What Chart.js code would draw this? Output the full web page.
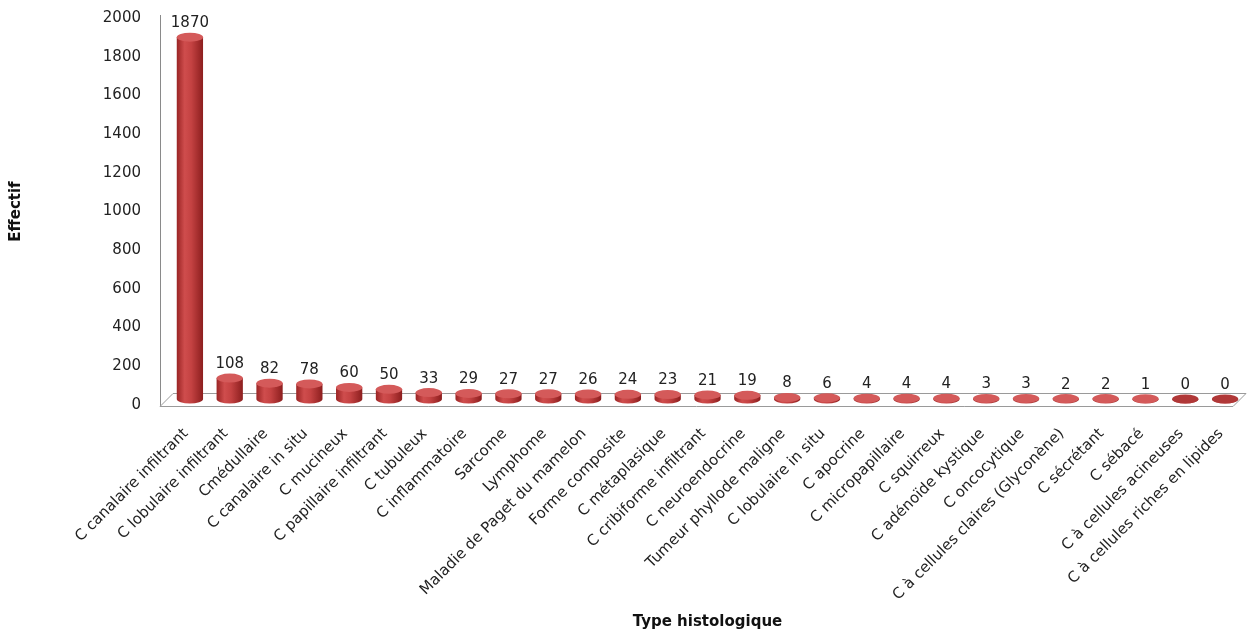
<!DOCTYPE html>
<html>
<head>
<meta charset="utf-8">
<script src="https://cdn.jsdelivr.net/npm/chart.js@4"></script>
<style>
html,body{margin:0;padding:0;background:#fff;}
#wrap{width:1247px;height:636px;position:relative;}
</style>
</head>
<body>
<div id="wrap"><canvas id="c" width="1247" height="636"></canvas></div>
<script>
const categories = [
  "C canalaire infiltrant", "C lobulaire infiltrant", "Cmédullaire", "C canalaire in situ",
  "C mucineux", "C papillaire infiltrant", "C tubuleux", "C inflammatoire", "Sarcome",
  "Lymphome", "Maladie de Paget du mamelon", "Forme composite", "C métaplasique",
  "C cribiforme infiltrant", "C neuroendocrine", "Tumeur phyllode maligne",
  "C lobulaire in situ", "C apocrine", "C micropapillaire", "C squirreux",
  "C adénoïde kystique", "C oncocytique", "C à cellules claires (Glyconène)",
  "C sécrétant", "C sébacé", "C à cellules acineuses", "C à cellules riches en lipides"
];
const values = [1870, 108, 82, 78, 60, 50, 33, 29, 27, 27, 26, 24, 23, 21, 19, 8, 6, 4, 4, 4, 3, 3, 2, 2, 1, 0, 0];
const yMin = 0, yMax = 2000, yStep = 200;
const yTitle = "Effectif";
const xTitle = "Type histologique";

const FONT = "'DejaVu Sans', Verdana, sans-serif";

const cylinderPlugin = {
  id: 'cyl',
  beforeDatasetsDraw(chart) {
    const ctx = chart.ctx, a = chart.chartArea, ys = chart.scales.y;
    const y0 = ys.getPixelForValue(0), yTop = ys.getPixelForValue(yMax);
    const d = 13;
    ctx.save();
    ctx.strokeStyle = '#8a8a8a';
    ctx.lineWidth = 1;
    ctx.beginPath();
    ctx.moveTo(a.left - 10 + 0.5, yTop - 3);
    ctx.lineTo(a.left - 10 + 0.5, y0 + 1);
    ctx.stroke();
    ctx.fillStyle = '#ffffff';
    ctx.strokeStyle = '#9a9a9a';
    ctx.beginPath();
    ctx.moveTo(a.left - 10, y0 + 1.5);
    ctx.lineTo(a.right - 12, y0 + 1.5);
    ctx.lineTo(a.right + 1, y0 + 1.5 - d);
    ctx.lineTo(a.left + 3, y0 + 1.5 - d);
    ctx.closePath();
    ctx.fill();
    ctx.stroke();
    ctx.restore();
  },
  afterDatasetsDraw(chart) {
    const ctx = chart.ctx;
    const meta = chart.getDatasetMeta(0);
    const dy = -6, ry = 4.5;
    ctx.save();
    meta.data.forEach((el, i) => {
      const p = el.getProps(['x', 'y', 'base', 'width'], true);
      const w = p.width, x0 = p.x - w / 2, x1 = p.x + w / 2;
      const top = p.y + dy, bot = p.base + dy;
      const g = ctx.createLinearGradient(x0, 0, x1, 0);
      g.addColorStop(0, '#9a2424');
      g.addColorStop(0.3, '#cf4d4d');
      g.addColorStop(0.55, '#c44242');
      g.addColorStop(1, '#8c1e1e');
      ctx.fillStyle = g;
      ctx.beginPath();
      ctx.moveTo(x0, top);
      ctx.lineTo(x0, bot);
      ctx.ellipse(p.x, bot, w / 2, ry, 0, Math.PI, 0, true);
      ctx.lineTo(x1, top);
      ctx.closePath();
      ctx.fill();
      ctx.fillStyle = values[i] === 0 ? '#b03838' : '#d45a5a';
      ctx.beginPath();
      ctx.ellipse(p.x, top, w / 2, ry, 0, 0, Math.PI * 2);
      ctx.fill();
      ctx.fillStyle = '#222';
      ctx.font = '15px ' + FONT;
      ctx.textAlign = 'center';
      ctx.textBaseline = 'middle';
      ctx.fillText(String(values[i]), p.x, p.y - 20);
    });
    ctx.restore();
  }
};

new Chart(document.getElementById('c'), {
  type: 'bar',
  data: {
    labels: categories,
    datasets: [{
      data: values,
      backgroundColor: 'rgba(0,0,0,0)',
      borderWidth: 0,
      barPercentage: 0.66,
      categoryPercentage: 1.0
    }]
  },
  options: {
    responsive: false,
    animation: false,
    devicePixelRatio: 1,
    layout: { padding: { left: 4, right: 2, top: 18, bottom: 2 } },
    plugins: { legend: { display: false }, tooltip: { enabled: false } },
    scales: {
      y: {
        min: yMin, max: yMax,
        ticks: { stepSize: yStep, color: '#222', font: { family: FONT, size: 15 }, padding: 4,
                 callback: v => String(v) },
        grid: { display: false, drawTicks: true, tickLength: 25 },
        border: { display: false },
        title: { display: true, text: yTitle, color: '#111', font: { family: FONT, size: 15, weight: 'bold' }, padding: 3 },
        afterFit(s) { s.width = 166; }
      },
      x: {
        ticks: {
          color: '#222', font: { family: FONT, size: 15 },
          autoSkip: false, maxRotation: 45, minRotation: 45, padding: 0, labelOffset: -4
        },
        grid: { display: false, drawTicks: true, tickLength: 20 },
        border: { display: false },
        title: { display: true, text: xTitle, color: '#111', font: { family: FONT, size: 15, weight: 'bold' }, padding: 3 },
        afterFit(s) { s.height = 229; }
      }
    }
  },
  plugins: [cylinderPlugin]
});
</script>
</body>
</html>
